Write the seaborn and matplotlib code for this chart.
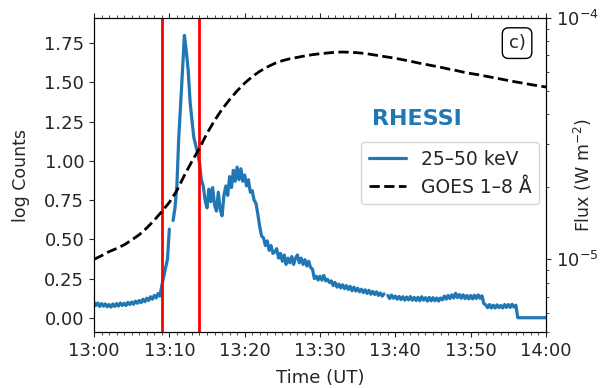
import numpy as np
import pandas as pd
import matplotlib
matplotlib.use("Agg")
import matplotlib.pyplot as plt
import matplotlib.dates as mdates
import seaborn as sns

sns.set_style("ticks")
plt.rcParams['font.family'] = ['DejaVu Sans']

# ---------------- data ----------------
start = "2011-01-01 13:00"
rhessi_step_min = 0.25
rhessi_counts = [
    0.098, 0.078, 0.094, 0.072,
    0.090, 0.074, 0.088, 0.070,
    0.084, 0.068, 0.088, 0.072,
    0.090, 0.074, 0.094, 0.078,
    0.092, 0.078, 0.098, 0.084,
    0.100, 0.086, 0.106, 0.092,
    0.110, 0.096, 0.118, 0.102,
    0.124, 0.110, 0.134, 0.118,
    0.142, 0.126, 0.154, 0.138,
    0.205, 0.262, 0.318, 0.372,
    0.565, np.nan, 0.620, 0.700,
    0.840, 1.150, 1.360, 1.580,
    1.800, 1.700, 1.580, 1.380,
    1.260, 1.150, 1.100, 1.050,
    0.990, 0.880, 0.840, 0.750,
    0.700, 0.820, 0.740, 0.830,
    0.720, 0.680, 0.800, 0.690,
    0.650, 0.780, 0.840, 0.780,
    0.900, 0.830, 0.940, 0.870,
    0.960, 0.880, 0.950, 0.870,
    0.910, 0.840, 0.880, 0.800,
    0.810, 0.750, 0.730, 0.660,
    0.580, 0.520, 0.510, 0.460,
    0.490, 0.430, 0.460, 0.410,
    0.420, 0.440, 0.380, 0.410,
    0.360, 0.400, 0.340, 0.380,
    0.350, 0.390, 0.340, 0.380,
    0.400, 0.350, 0.380, 0.340,
    0.370, 0.330, 0.360, 0.320,
    0.310, 0.250, 0.265, 0.240,
    0.265, 0.240, 0.270, 0.235,
    0.245, 0.225, 0.235, 0.205,
    0.225, 0.195, 0.215, 0.190,
    0.210, 0.185, 0.205, 0.180,
    0.200, 0.172, 0.195, 0.170,
    0.188, 0.165, 0.182, 0.160,
    0.178, 0.155, 0.175, 0.150,
    0.168, 0.148, 0.165, 0.142,
    0.158, 0.138, 0.152, np.nan,
    0.142, 0.122, 0.145, 0.124,
    0.138, 0.118, 0.136, 0.116,
    0.134, 0.112, 0.132, 0.114,
    0.135, 0.112, 0.130, 0.110,
    0.130, 0.108, 0.134, 0.112,
    0.128, 0.106, 0.130, 0.108,
    0.128, 0.108, 0.126, 0.106,
    0.126, 0.114, 0.138, 0.118,
    0.142, 0.122, 0.146, 0.126,
    0.156, 0.128, 0.148, 0.124,
    0.146, 0.122, 0.142, 0.120,
    0.142, 0.120, 0.144, 0.122,
    0.146, 0.124, 0.140, 0.090,
    0.082, 0.064, 0.084, 0.062,
    0.080, 0.062, 0.082, 0.064,
    0.078, 0.062, 0.084, 0.066,
    0.084, 0.066, 0.086, 0.068,
    0.080, 0.000, 0.000, 0.000,
    0.000, 0.000, 0.000, 0.000,
    0.000, 0.000, 0.000, 0.000,
    0.000, 0.000, 0.000, 0.000,
    0.000,
]

goes_step_min = 1.0
goes_log_flux = [
    -5.000, -4.985, -4.968, -4.955, -4.940, -4.920, -4.898, -4.870, -4.838, -4.802,
    -4.764, -4.715, -4.652, -4.594, -4.540, -4.478, -4.425, -4.378, -4.338, -4.302,
    -4.270, -4.243, -4.221, -4.203, -4.188, -4.177, -4.169, -4.163, -4.157, -4.152,
    -4.148, -4.145, -4.142, -4.141, -4.142, -4.144, -4.147, -4.152, -4.157, -4.162,
    -4.167, -4.173, -4.179, -4.186, -4.192, -4.198, -4.204, -4.211, -4.217, -4.224,
    -4.230, -4.235, -4.241, -4.247, -4.253, -4.259, -4.265, -4.270, -4.276, -4.281,
    -4.286,
]

marker_times = ["13:09", "13:14"]
rhessi_label = "25\u201350 keV"
goes_label = "GOES 1\u20138 \u00c5"

# ---------------- frames ----------------
t0 = pd.Timestamp(start)
rh = pd.DataFrame({
    "time": t0 + pd.to_timedelta(np.arange(len(rhessi_counts)) * rhessi_step_min, unit="min"),
    "counts": rhessi_counts,
})
rh["seg"] = rh["counts"].isna().cumsum()
rh = rh.dropna()

gs = pd.DataFrame({
    "time": t0 + pd.to_timedelta(np.arange(len(goes_log_flux)) * goes_step_min, unit="min"),
    "flux": 10.0 ** np.array(goes_log_flux),
})

# ---------------- figure ----------------
fig = plt.figure(figsize=(6.04, 3.88), dpi=100)
ax = fig.add_subplot(111)
fig.subplots_adjust(left=94/604, right=546/604, top=1-18/388, bottom=1-332/388)

blue = "#1f77b4"
for i, (_, seg) in enumerate(rh.groupby("seg")):
    sns.lineplot(data=seg, x="time", y="counts", ax=ax, color=blue, lw=2.3,
                 estimator=None, label=rhessi_label if i == 0 else None, legend=False)

for mt in marker_times:
    ax.axvline(pd.Timestamp(f"2011-01-01 {mt}"), color="red", lw=2)

ax2 = ax.twinx()
sns.lineplot(data=gs, x="time", y="flux", ax=ax2, color="black", lw=2,
             linestyle="--", estimator=None, label=goes_label, legend=False)
ax2.set_yscale("log")
ax2.set_ylim(5e-6, 1e-4)

ax.set_xlim(t0, t0 + pd.Timedelta(minutes=60))
ax.set_ylim(-0.091, 1.911)
ax.xaxis.set_major_locator(mdates.MinuteLocator(byminute=[0, 10, 20, 30, 40, 50]))
ax.xaxis.set_minor_locator(mdates.MinuteLocator())
ax.xaxis.set_major_formatter(mdates.DateFormatter("%H:%M"))
ax.set_yticks([0.0, 0.25, 0.5, 0.75, 1.0, 1.25, 1.5, 1.75])
ax.yaxis.set_major_formatter(matplotlib.ticker.FormatStrFormatter("%.2f"))
ax.tick_params(axis="x", which="both", top=True, labelsize=13)
ax.tick_params(axis="y", labelsize=13)
ax2.tick_params(axis="y", which="both", labelsize=13)

ax.set_xlabel("Time (UT)", fontsize=13, labelpad=7)
ax.set_ylabel("log Counts", fontsize=12.5)
ax2.set_ylabel("Flux (W m$^{-2}$)", fontsize=12.5)
ax.yaxis.set_label_coords(-0.142, 0.5)
ax2.yaxis.set_label_coords(1.058, 0.5)

for a in (ax, ax2):
    for s in a.spines.values():
        s.set_visible(True)
        s.set_color("black")

ax2.text(0.715, 0.678, "RHESSI", transform=ax.transAxes, color=blue,
         fontsize=16, fontweight="bold", ha="center", va="center")
ax2.text(0.936, 0.92, "c)", transform=ax.transAxes, fontsize=13,
         ha="center", va="center",
         bbox=dict(boxstyle="round,pad=0.35", fc="white", ec="black"))

h1, l1 = ax.get_legend_handles_labels()
h2, l2 = ax2.get_legend_handles_labels()
ax2.legend(h1 + h2, l1 + l2, loc="upper right", bbox_to_anchor=(0.985, 0.605),
           borderaxespad=0, fontsize=13.5, handlelength=2.0)

fig.savefig("out.png", dpi=100)
